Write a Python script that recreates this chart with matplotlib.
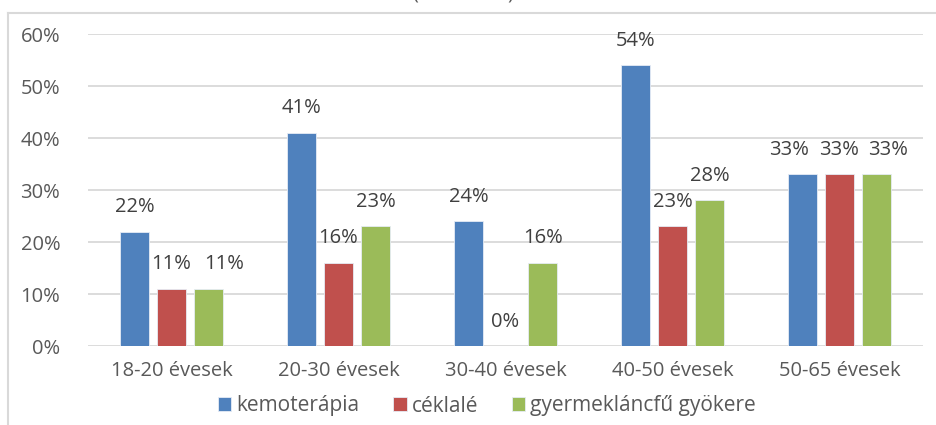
import matplotlib
matplotlib.use("Agg")
import matplotlib.pyplot as plt
from matplotlib.lines import Line2D
import numpy as np

plt.rcParams['font.family'] = ['Open Sans', 'DejaVu Sans']

categories = ["18-20 évesek", "20-30 évesek", "30-40 évesek", "40-50 évesek", "50-65 évesek"]
series_names = ["kemoterápia", "céklalé", "gyermekláncfű gyökere"]
kemoterapia = [22, 41, 24, 54, 33]
ceklale = [11, 16, 0, 23, 33]
gyermeklancfu = [11, 23, 16, 28, 33]
y_ticks = [0, 10, 20, 30, 40, 50, 60]
y_tick_labels = ["0%", "10%", "20%", "30%", "40%", "50%", "60%"]

colors = ["#4F81BD", "#C0504D", "#9BBB59"]
text_color = "#595959"
label_color = "#404040"
grid_color = "#D9D9D9"

# horizontal nudges (points) for data labels that would otherwise collide
label_nudge = {
    (2, 0): 11.5,
    (0, 4): -10.0,
    (2, 4): 8.5,
}

W, H = 937, 425
fig = plt.figure(figsize=(W / 100, H / 100), dpi=100)
ax = fig.add_axes([88 / W, 1 - 346 / H, (923 - 88) / W, (346 - 34) / H])

x = np.arange(len(categories))
step = 0.222
width = 0.175
all_series = [kemoterapia, ceklale, gyermeklancfu]
for i, (vals, name, col) in enumerate(zip(all_series, series_names, colors)):
    pos = x + (i - 1) * step
    ax.bar(pos, vals, width=width, color=col, edgecolor="#E6ECF5", linewidth=0.6,
           label=name, zorder=3)
    for j, (px, v) in enumerate(zip(pos, vals)):
        dx = label_nudge.get((i, j), 0.0)
        ax.annotate(f"{v}%", (px, v), xytext=(dx, 17.5), textcoords="offset points",
                    ha="center", va="center", fontsize=14.5, color=label_color)

ax.set_xlim(-0.5, len(categories) - 0.5)
ax.set_ylim(0, 60)
ax.set_yticks(y_ticks)
ax.set_yticklabels(y_tick_labels)
ax.set_xticks(x)
ax.set_xticklabels(categories)
ax.tick_params(axis="both", length=0, labelsize=14.5, labelcolor=text_color)
ax.tick_params(axis="y", pad=20)
ax.tick_params(axis="x", pad=11)
ax.yaxis.grid(True, color=grid_color, linewidth=1.3, zorder=0)
ax.set_axisbelow(True)
for s in ax.spines.values():
    s.set_visible(False)

leg = fig.legend(loc="center", bbox_to_anchor=(487 / W, 1 - 406 / H), ncol=3,
                 frameon=False, fontsize=15, handlelength=0.65, handleheight=0.65,
                 handletextpad=0.25, columnspacing=1.6, labelcolor=text_color)

# chart area border (top and left edges)
fig.add_artist(Line2D([8 / W, 8 / W], [0, 1 - 12.5 / H], transform=fig.transFigure,
                      color=grid_color, linewidth=1.5))
fig.add_artist(Line2D([8 / W, 1], [1 - 12.5 / H, 1 - 12.5 / H], transform=fig.transFigure,
                      color=grid_color, linewidth=1.5))

# title brackets running off the top edge
fig.text(415 / W, 1 - 3 / H, "(", ha="center", va="bottom", fontsize=14.5, color=text_color)
fig.text(510 / W, 1 - 3 / H, ")", ha="center", va="bottom", fontsize=14.5, color=text_color)

fig.savefig("out.png", dpi=100, facecolor="white")
